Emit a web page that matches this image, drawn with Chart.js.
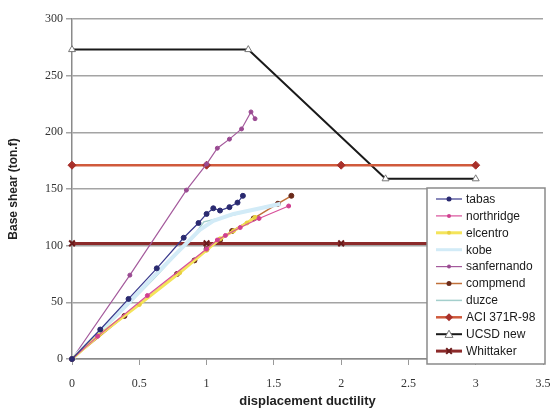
<!DOCTYPE html>
<html>
<head>
<meta charset="utf-8">
<script src="https://cdn.jsdelivr.net/npm/chart.js@4/dist/chart.umd.min.js"></script>
<style>
  html, body { margin: 0; padding: 0; background: #fff; }
  #wrap { width: 553px; height: 409px; }
</style>
</head>
<body>
<div id="wrap"><canvas id="chart" width="553" height="409"></canvas></div>
<script>
// ejes
const xTicks = [0, 0.5, 1, 1.5, 2, 2.5, 3, 3.5];
const yTicks = [0, 50, 100, 150, 200, 250, 300];

// curvas de ensayo
const tabasX = [0, 0.21, 0.42, 0.63, 0.83, 0.94, 1.0, 1.05, 1.1, 1.17, 1.23, 1.27];
const tabasY = [0, 26, 53, 80, 107, 120, 128, 133, 131, 134, 138, 144];

const northridgeX = [0, 0.19, 0.56, 1.0, 1.08, 1.14, 1.25, 1.39, 1.61];
const northridgeY = [0, 20, 56, 97, 105, 109, 116, 124, 135];

const elcentroX = [0, 0.2, 0.5, 0.8, 1.0, 1.1, 1.2, 1.3, 1.36];
const elcentroY = [0, 21, 48, 76, 96, 106, 113, 120, 125];

const kobeX = [0, 0.2, 0.4, 0.6, 0.8, 0.95, 1.05, 1.2, 1.4, 1.55];
const kobeY = [0, 23, 47, 72, 96, 114, 122, 128, 133, 137];

const sanfernandoX = [0, 0.43, 0.85, 1.0, 1.08, 1.17, 1.26, 1.33, 1.36];
const sanfernandoY = [0, 74, 149, 172, 186, 194, 203, 218, 212];

const compmendX = [0, 0.39, 0.78, 0.91, 1.0, 1.1, 1.19, 1.35, 1.53, 1.63];
const compmendY = [0, 38, 75, 87, 97, 105, 113, 124, 137, 144];

const duzceX = [0, 0.3, 0.6, 0.9, 0.98, 1.2, 1.45];
const duzceY = [0, 34, 70, 108, 121, 127, 135];

// modelos
const aciX = [0, 1, 2, 3];
const aciY = [171, 171, 171, 171];

const ucsdX = [0, 1.31, 2.33, 3];
const ucsdY = [273, 273, 159, 159];

const whittakerX = [0, 1, 2, 3];
const whittakerY = [102, 102, 102, 102];

function pts(xs, ys) {
    return xs.map((x, i) => ({ x: x, y: ys[i] }));
}

const series = [
    { label: "tabas", xs: tabasX, ys: tabasY, color: "#3a3a8c", width: 1.2, point: "circle", r: 2.5, fill: "#2a2a70" },
    { label: "northridge", xs: northridgeX, ys: northridgeY, color: "#d8509a", width: 1.2, point: "circle", r: 2, fill: "#d04090" },
    { label: "elcentro", xs: elcentroX, ys: elcentroY, color: "#f4e45a", width: 3, point: "circle", r: 2, fill: "#e8d040" },
    { label: "kobe", xs: kobeX, ys: kobeY, color: "#d2ebf7", width: 4, point: "circle", r: 0, fill: "#d2ebf7" },
    { label: "sanfernando", xs: sanfernandoX, ys: sanfernandoY, color: "#a45a9c", width: 1.2, point: "circle", r: 2, fill: "#9a4a92" },
    { label: "compmend", xs: compmendX, ys: compmendY, color: "#c0703a", width: 1.5, point: "circle", r: 2.5, fill: "#6a2a1a" },
    { label: "duzce", xs: duzceX, ys: duzceY, color: "#a4cfcc", width: 1.5, point: "circle", r: 0, fill: "#a4cfcc" },
    { label: "ACI 371R-98", xs: aciX, ys: aciY, color: "#d05a3c", width: 2.5, point: "rectRot", r: 4, fill: "#a8302a" },
    { label: "UCSD new", xs: ucsdX, ys: ucsdY, color: "#1a1a1a", width: 2, point: "triangle", r: 4, fill: "#ffffff", stroke: "#777" },
    { label: "Whittaker", xs: whittakerX, ys: whittakerY, color: "#8c2a2a", width: 3, point: "crossRot", r: 4, fill: "#6a1a1a" },
];

const datasets = series.map((s) => ({
    label: s.label,
    data: pts(s.xs, s.ys),
    borderColor: s.color,
    borderWidth: s.width,
    backgroundColor: s.fill,
    pointStyle: s.point,
    pointRadius: s.r,
    pointBackgroundColor: s.fill,
    pointBorderColor: s.stroke || s.fill,
    pointBorderWidth: s.point === "crossRot" ? 2 : 1,
    tension: 0,
    fill: false,
    clip: false,
}));

// dibuja un marcador pequeño para la leyenda
function drawMarker(ctx, s, x, y) {
    if (!s.r) return;
    ctx.save();
    ctx.fillStyle = s.fill;
    ctx.strokeStyle = s.stroke || s.fill;
    ctx.lineWidth = 1;
    const r = s.r;
    ctx.beginPath();
    if (s.point === "circle") {
        ctx.arc(x, y, r, 0, Math.PI * 2);
        ctx.fill();
    } else if (s.point === "rectRot") {
        ctx.moveTo(x, y - r);
        ctx.lineTo(x + r, y);
        ctx.lineTo(x, y + r);
        ctx.lineTo(x - r, y);
        ctx.closePath();
        ctx.fill();
    } else if (s.point === "triangle") {
        ctx.moveTo(x, y - r);
        ctx.lineTo(x + r, y + r * 0.8);
        ctx.lineTo(x - r, y + r * 0.8);
        ctx.closePath();
        ctx.fill();
        ctx.stroke();
    } else if (s.point === "crossRot") {
        ctx.lineWidth = 2;
        ctx.moveTo(x - r * 0.7, y - r * 0.7);
        ctx.lineTo(x + r * 0.7, y + r * 0.7);
        ctx.moveTo(x + r * 0.7, y - r * 0.7);
        ctx.lineTo(x - r * 0.7, y + r * 0.7);
        ctx.stroke();
    }
    ctx.restore();
}

// leyenda dentro del área del gráfico
const insideLegend = {
    id: "insideLegend",
    afterDraw(chart) {
        const ctx = chart.ctx;
        const left = 427, top = 188, right = 545, bottom = 364;
        ctx.save();
        ctx.fillStyle = "#ffffff";
        ctx.fillRect(left, top, right - left, bottom - top);
        ctx.strokeStyle = "#8a8a8a";
        ctx.lineWidth = 1.5;
        ctx.strokeRect(left, top, right - left, bottom - top);
        ctx.font = "12px 'Liberation Sans', Arial, sans-serif";
        ctx.textBaseline = "middle";
        series.forEach((s, i) => {
            const y = 199 + i * 16.9;
            ctx.strokeStyle = s.color;
            ctx.lineWidth = Math.min(s.width, 3);
            ctx.beginPath();
            ctx.moveTo(436, y);
            ctx.lineTo(462, y);
            ctx.stroke();
            drawMarker(ctx, s, 449, y);
            ctx.fillStyle = "#1a1a1a";
            ctx.fillText(s.label, 466, y + 0.5);
        });
        ctx.restore();
    },
};

new Chart(document.getElementById("chart").getContext("2d"), {
    type: "line",
    data: { datasets: datasets },
    plugins: [insideLegend],
    options: {
        responsive: false,
        animation: false,
        layout: { padding: { top: 19, right: 10, left: 0, bottom: 0 } },
        plugins: {
            legend: { display: false },
            tooltip: { enabled: false },
        },
        scales: {
            x: {
                type: "linear",
                min: 0,
                max: 3.5,
                afterBuildTicks: (scale) => {
                    scale.ticks = xTicks.map((v) => ({ value: v }));
                },
                ticks: {
                    callback: (v) => String(v),
                    font: { family: "'Liberation Serif', serif", size: 12 },
                    color: "#333",
                    padding: 12,
                    maxRotation: 0,
                },
                grid: {
                    drawOnChartArea: false,
                    tickLength: 6,
                    color: "#999",
                },
                border: { color: "#8a8a8a", width: 1.5 },
                title: {
                    display: true,
                    text: "displacement ductility",
                    font: { family: "'Liberation Sans', Arial, sans-serif", size: 13, weight: "bold" },
                    color: "#222",
                    padding: { top: 0, bottom: 0 },
                },
                afterFit: (scale) => {
                    scale.height = 50;
                    scale.paddingLeft = 0;
                    scale.paddingRight = 0;
                },
            },
            y: {
                type: "linear",
                min: 0,
                max: 300,
                afterBuildTicks: (scale) => {
                    scale.ticks = yTicks.map((v) => ({ value: v }));
                },
                ticks: {
                    font: { family: "'Liberation Serif', serif", size: 12 },
                    color: "#333",
                    padding: 3,
                },
                grid: {
                    color: "#a4a4a4",
                    lineWidth: 1.5,
                    tickLength: 6,
                },
                border: { color: "#8a8a8a", width: 1.5 },
                title: {
                    display: true,
                    text: "Base shear (ton.f)",
                    font: { family: "'Liberation Sans', Arial, sans-serif", size: 12, weight: "bold" },
                    color: "#222",
                    padding: { top: 6, bottom: 0 },
                },
                afterFit: (scale) => {
                    scale.width = 72;
                    scale.paddingTop = 0;
                    scale.paddingBottom = 0;
                },
            },
        },
    },
});
</script>
</body>
</html>
